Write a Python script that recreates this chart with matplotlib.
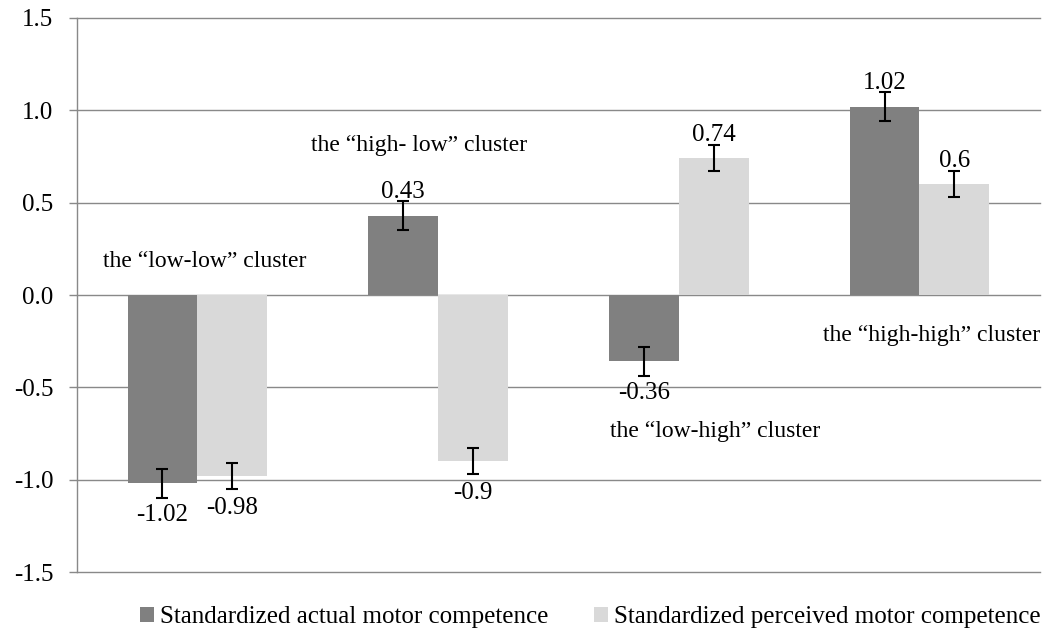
import numpy as np
import matplotlib
matplotlib.use('Agg')
import matplotlib.pyplot as plt

clusters = ['the \u201clow-low\u201d cluster', 'the \u201chigh- low\u201d cluster',
            'the \u201clow-high\u201d cluster', 'the \u201chigh-high\u201d cluster']
actual = [-1.02, 0.43, -0.36, 1.02]
perceived = [-0.98, -0.9, 0.74, 0.6]
actual_err = [0.08, 0.08, 0.08, 0.08]
perceived_err = [0.07, 0.07, 0.07, 0.07]
actual_lbl = ['-1.02', '0.43', '-0.36', '1.02']
perceived_lbl = ['-0.98', '-0.9', '0.74', '0.6']
# where the cluster names sit (x in group units, y in data units)
name_x = [0.03, 0.92, 2.15, 3.05]
name_y = [0.18, 0.81, -0.74, -0.22]

plt.rcParams['font.family'] = ['Liberation Serif', 'DejaVu Serif']
fs = 18

fig = plt.figure(figsize=(10.6, 6.36), dpi=100)
ax = fig.add_axes([0.0726, 0.1006, 0.9084, 0.8711])

x = np.arange(len(clusters))
w = 0.29
dark = '#808080'
light = '#d9d9d9'
grid_c = '#898989'

ax.set_axisbelow(True)
ax.yaxis.grid(True, color=grid_c, lw=1.0)
b1 = ax.bar(x - w/2, actual, w, color=dark, label='Standardized actual motor competence', zorder=2)
b2 = ax.bar(x + w/2, perceived, w, color=light, label='Standardized perceived motor competence', zorder=2)
ax.errorbar(x - w/2, actual, yerr=actual_err, fmt='none', ecolor='black', elinewidth=1.5, capsize=4.5, capthick=1.5, zorder=3)
ax.errorbar(x + w/2, perceived, yerr=perceived_err, fmt='none', ecolor='black', elinewidth=1.5, capsize=4.5, capthick=1.5, zorder=3)

for xs, vals, lbls in [(x - w/2, actual, actual_lbl), (x + w/2, perceived, perceived_lbl)]:
    for xi, v, t in zip(xs, vals, lbls):
        if v >= 0:
            ax.annotate(t, (xi, v), xytext=(0, 9), textcoords='offset points',
                        ha='center', va='bottom', fontsize=fs, zorder=4)
        else:
            ax.annotate(t, (xi, v), xytext=(0, -15), textcoords='offset points',
                        ha='center', va='top', fontsize=fs, zorder=4)

for nx, ny, name in zip(name_x, name_y, clusters):
    ax.text(nx, ny, name, ha='center', va='center', fontsize=17)

ax.set_xlim(-0.5, 3.5)
ax.set_ylim(-1.5, 1.5)
ax.set_yticks(np.arange(-1.5, 1.51, 0.5))
ax.set_yticklabels(['%.1f' % t for t in np.arange(-1.5, 1.51, 0.5)], fontsize=18)
ax.set_xticks([])
for l in ax.get_ygridlines():
    l.set_clip_on(False)
for s in ['top', 'right', 'bottom']:
    ax.spines[s].set_visible(False)
ax.spines['left'].set_color(grid_c)
ax.spines['left'].set_linewidth(1.0)
ax.tick_params(axis='y', color=grid_c, length=6, width=1.0, pad=11)

fig.legend(handles=[b1, b2], loc='center', bbox_to_anchor=(0.557, 0.03), ncol=2,
           frameon=False, fontsize=fs, handlelength=0.55, handleheight=0.55,
           handletextpad=0.25, columnspacing=1.8)

fig.savefig('out.png', dpi=100)
